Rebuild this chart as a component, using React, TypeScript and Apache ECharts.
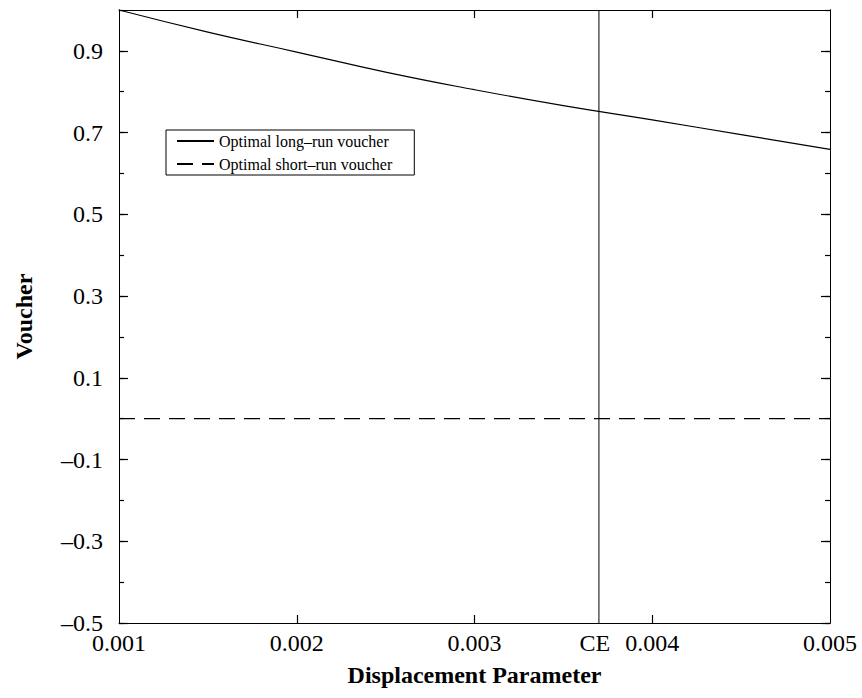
import React, { useEffect, useRef } from "react";
import * as echarts from "echarts";

const xValues = [0.001, 0.0015, 0.002, 0.0025, 0.003, 0.0035, 0.004, 0.0045, 0.005];
const longRun = [1.0, 0.946, 0.897, 0.848, 0.805, 0.766, 0.731, 0.695, 0.659];
const shortRun = [0, 0, 0, 0, 0, 0, 0, 0, 0];
const ceValue = 0.0037;
const ceLineY = [-0.5, 1.0];
const xLabelValues = [0.001, 0.002, 0.003, 0.0037, 0.004, 0.005];
const xTickValues = [0.002, 0.003, 0.004];
const yMajorValues = [-0.5, -0.3, -0.1, 0.1, 0.3, 0.5, 0.7, 0.9];
const seriesNames = ["Optimal long–run voucher", "Optimal short–run voucher"];

const FONT = '"Liberation Serif", "Times New Roman", Times, serif';

export default function App() {
  const ref = useRef<HTMLDivElement>(null);
  useEffect(() => {
    document.body.style.margin = "0";
    const chart = echarts.init(ref.current!, null, { renderer: "svg" });
    const axisLine = { show: true, onZero: false, lineStyle: { color: "#000", width: 1 } };
    const yBase = {
      type: "value" as const,
      min: -0.5,
      max: 1.0,
      interval: 0.1,
      splitLine: { show: false },
      axisLine,
    };
    const xBase = {
      type: "value" as const,
      min: 0.001,
      max: 0.005,
      interval: 0.001,
      splitLine: { show: false },
      axisLine,
    };
    const fmtY = (v: number) => (v < 0 ? "–" + Math.abs(v).toFixed(1) : v.toFixed(1));
    chart.setOption({
      animation: false,
      backgroundColor: "#fff",
      textStyle: { fontFamily: FONT },
      grid: { left: 119, right: 32, top: 10, bottom: 75, containLabel: false },
      legend: {
        data: seriesNames,
        orient: "vertical",
        left: 166,
        top: 130,
        itemWidth: 37,
        itemHeight: 14,
        itemGap: 7,
        padding: [3, 22, 3, 10],
        borderColor: "#000",
        borderWidth: 1,
        itemStyle: { opacity: 0 },
        textStyle: { fontFamily: FONT, fontSize: 16, color: "#000" },
      },
      xAxis: [
        {
          ...xBase,
          position: "bottom",
          name: "Displacement Parameter",
          nameLocation: "middle",
          nameGap: 40,
          nameTextStyle: { fontFamily: FONT, fontSize: 24, fontWeight: "bold", color: "#000" },
          axisTick: { show: true, inside: true, length: 8, lineStyle: { color: "#000", width: 1.2 }, customValues: xTickValues },
          axisLabel: {
            show: true,
            margin: 8,
            fontFamily: FONT,
            fontSize: 24,
            color: "#000",
            customValues: xLabelValues,
            formatter: (v: number) => (Math.abs(v - ceValue) < 1e-9 ? "{ce|CE}" : v.toFixed(3)),
            rich: { ce: { fontFamily: FONT, fontSize: 24, color: "#000", padding: [0, 8, 0, 0] } },
            showMinLabel: true,
            showMaxLabel: true,
          },
        },
        {
          ...xBase,
          position: "top",
          axisTick: { show: true, inside: true, length: 8, lineStyle: { color: "#000", width: 1.2 }, customValues: xTickValues },
          axisLabel: { show: false },
        },
      ],
      yAxis: [
        {
          ...yBase,
          position: "left",
          name: "Voucher",
          nameLocation: "middle",
          nameGap: 83,
          nameTextStyle: { fontFamily: FONT, fontSize: 24, fontWeight: "bold", color: "#000" },
          axisTick: { show: true, inside: true, length: 5, lineStyle: { color: "#000", width: 1.2 } },
          axisLabel: {
            show: true,
            margin: 16,
            fontFamily: FONT,
            fontSize: 24,
            color: "#000",
            customValues: yMajorValues,
            formatter: fmtY,
          },
        },
        {
          ...yBase,
          position: "left",
          axisTick: { show: true, inside: true, length: 9, lineStyle: { color: "#000", width: 1.2 }, customValues: yMajorValues },
          axisLabel: { show: false },
        },
        {
          ...yBase,
          position: "right",
          axisTick: { show: true, inside: true, length: 5, lineStyle: { color: "#000", width: 1.2 } },
          axisLabel: { show: false },
        },
        {
          ...yBase,
          position: "right",
          axisTick: { show: true, inside: true, length: 9, lineStyle: { color: "#000", width: 1.2 }, customValues: yMajorValues },
          axisLabel: { show: false },
        },
      ],
      series: [
        {
          name: seriesNames[0],
          type: "line",
          data: xValues.map((x, i) => [x, longRun[i]]),
          smooth: true,
          symbol: "none",
          lineStyle: { color: "#000", width: 1.2, type: "solid" },
          itemStyle: { color: "#000" },
        },
        {
          name: seriesNames[1],
          type: "line",
          data: xValues.map((x, i) => [x, shortRun[i]]),
          symbol: "none",
          lineStyle: { color: "#000", width: 1.2, type: [16, 9] },
          itemStyle: { color: "#000" },
        },
        {
          name: "CE",
          type: "line",
          data: ceLineY.map((y) => [ceValue, y]),
          symbol: "none",
          lineStyle: { color: "#000", width: 1, type: "solid" },
          itemStyle: { color: "#000" },
        },
      ],
    });
    return () => chart.dispose();
  }, []);
  return <div ref={ref} style={{ width: 862, height: 698 }} />;
}
